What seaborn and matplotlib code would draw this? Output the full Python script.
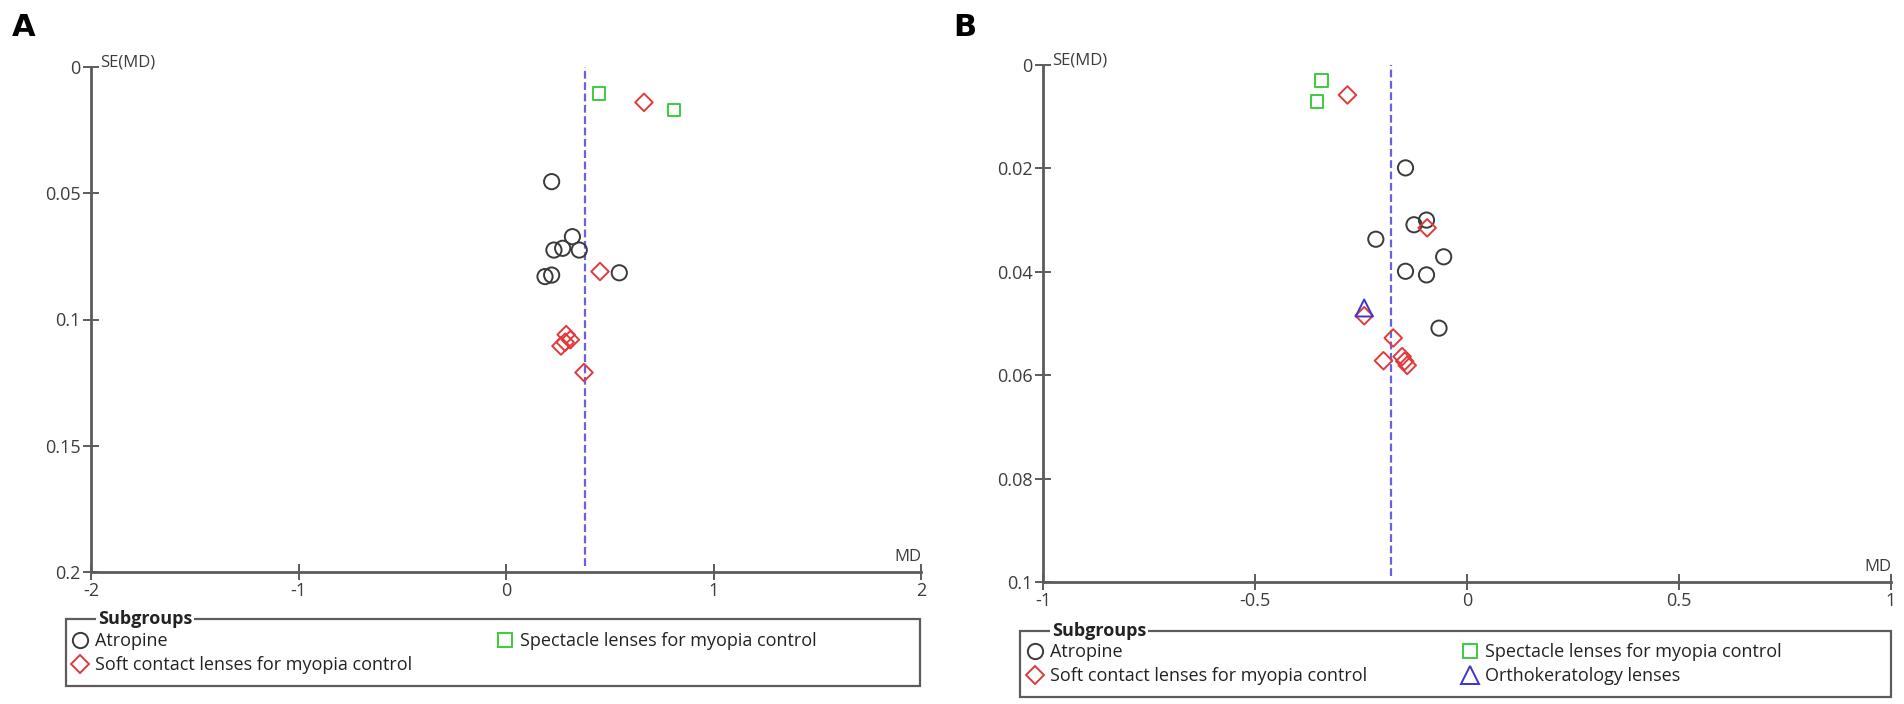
import matplotlib
matplotlib.use("Agg")
import matplotlib.pyplot as plt
import seaborn as sns
from matplotlib.lines import Line2D
from matplotlib.patches import Rectangle

# ---- data: MD (x) and SE(MD) (y) per study ----
# Panel A
a_atropine_md = [0.22, 0.32, 0.231, 0.273, 0.353, 0.546, 0.188, 0.22]
a_atropine_se = [0.0454, 0.0672, 0.0725, 0.0718, 0.0725, 0.0815, 0.083, 0.0824]
a_soft_md = [0.665, 0.453, 0.29, 0.31, 0.285, 0.265, 0.376]
a_soft_se = [0.014, 0.081, 0.106, 0.108, 0.109, 0.1105, 0.121]
a_spectacle_md = [0.448, 0.81]
a_spectacle_se = [0.0104, 0.017]
a_pooled_md = 0.38

# Panel B
b_atropine_md = [-0.145, -0.125, -0.0955, -0.215, -0.055, -0.145, -0.0955, -0.066]
b_atropine_se = [0.0199, 0.0309, 0.0300, 0.0337, 0.0371, 0.0399, 0.0406, 0.0509]
b_soft_md = [-0.282, -0.094, -0.2425, -0.174, -0.197, -0.153, -0.147, -0.141]
b_soft_se = [0.0058, 0.0315, 0.0485, 0.0528, 0.0572, 0.0564, 0.0573, 0.0581]
b_spectacle_md = [-0.343, -0.354]
b_spectacle_se = [0.0030, 0.0070]
b_ortho_md = [-0.2425]
b_ortho_se = [0.0470]
b_pooled_md = -0.18

a_xticks = [-2, -1, 0, 1, 2]
a_xticklabels = ["-2", "-1", "0", "1", "2"]
a_yticks = [0, 0.05, 0.1, 0.15, 0.2]
a_yticklabels = ["0", "0.05", "0.1", "0.15", "0.2"]
b_xticks = [-1, -0.5, 0, 0.5, 1]
b_xticklabels = ["-1", "-0.5", "0", "0.5", "1"]
b_yticks = [0, 0.02, 0.04, 0.06, 0.08, 0.1]
b_yticklabels = ["0", "0.02", "0.04", "0.06", "0.08", "0.1"]

labels = {
    "atropine": "Atropine",
    "soft": "Soft contact lenses for myopia control",
    "spectacle": "Spectacle lenses for myopia control",
    "ortho": "Orthokeratology lenses",
}
styles = {
    "atropine": dict(marker="o", color="#3a3a3a", s=120, ms=11),
    "soft": dict(marker="D", color="#e23a3a", s=80, ms=9),
    "spectacle": dict(marker="s", color="#3ccc3c", s=85, ms=9.5),
    "ortho": dict(marker="^", color="#3a36d0", s=150, ms=12.5),
}

W, H = 1904, 704
sns.set_style("white")
plt.rcParams["font.family"] = ["Liberation Sans Narrow", "Open Sans", "DejaVu Sans"]
AXIS_GRAY = "#5c5c5c"
TEXT_GRAY = "#3c3c3c"

fig = plt.figure(figsize=(W / 100, H / 100), dpi=100)


def px_axes(left, top, right, bottom):
    return fig.add_axes([left / W, 1 - bottom / H, (right - left) / W, (bottom - top) / H])


def draw_funnel(ax, groups, pooled, xlim, ymax, xticks, xticklabels, yticks, yticklabels):
    ax.axvline(pooled, ymin=0.012, ymax=1.0, color="#6a60e6", lw=1.6,
               dashes=(3.5, 1.6), zorder=2)
    for key, md, se in groups:
        st = styles[key]
        sns.scatterplot(x=md, y=se, marker=st["marker"], s=st["s"],
                        facecolor="none", edgecolor=st["color"], color=st["color"],
                        linewidth=1.4, ax=ax, legend=False, zorder=3)
    ax.set_xlim(*xlim)
    ax.set_ylim(ymax, 0)
    ax.set_xticks(xticks)
    ax.set_xticklabels(xticklabels)
    ax.set_yticks(yticks)
    ax.set_yticklabels(yticklabels)
    ax.set_xlabel("")
    ax.set_ylabel("")
    ax.set_facecolor("none")
    for side in ["top", "right"]:
        ax.spines[side].set_visible(False)
    for side in ["left", "bottom"]:
        ax.spines[side].set_color(AXIS_GRAY)
        ax.spines[side].set_linewidth(2.0)
    ax.tick_params(bottom=True, left=True, direction="inout", length=11, width=1.4,
                   color=AXIS_GRAY, labelsize=13, labelcolor=TEXT_GRAY, pad=2)
    ax.annotate("SE(MD)", xy=(0, 1), xycoords="axes fraction", xytext=(6.5, 3),
                textcoords="offset points", ha="left", va="center",
                fontsize=12, color=TEXT_GRAY)
    ax.annotate("MD", xy=(1, 0), xycoords="axes fraction", xytext=(0, 11),
                textcoords="offset points", ha="right", va="center",
                fontsize=12, color=TEXT_GRAY)


def draw_legend(box, title_x, col_x, row_top, keys_by_col):
    left, top, right, bottom = box
    fig.add_artist(Rectangle((left / W, 1 - bottom / H), (right - left) / W,
                             (bottom - top) / H, transform=fig.transFigure,
                             fill=False, edgecolor=AXIS_GRAY, lw=1.6))
    fig.text(title_x / W, 1 - top / H, "Subgroups", fontsize=13, fontweight="bold",
             color="#222222", ha="left", va="center",
             bbox=dict(facecolor="white", edgecolor="none", pad=1.5))
    for x, keys in zip(col_x, keys_by_col):
        handles = [Line2D([], [], ls="", marker=styles[k]["marker"],
                          mfc="none", mec=styles[k]["color"], ms=styles[k]["ms"],
                          mew=1.4) for k in keys]
        fig.legend(handles, [labels[k] for k in keys], loc="upper left",
                   bbox_to_anchor=(x / W, 1 - row_top / H), frameon=False,
                   fontsize=13, handlelength=0.9, handletextpad=0.35,
                   borderpad=0, borderaxespad=0, labelspacing=0.35,
                   labelcolor="#222222")


# ---- panel A ----
ax_a = px_axes(91, 67, 921, 572)
draw_funnel(ax_a,
            [("atropine", a_atropine_md, a_atropine_se),
             ("soft", a_soft_md, a_soft_se),
             ("spectacle", a_spectacle_md, a_spectacle_se)],
            a_pooled_md, (-2, 2), 0.2, a_xticks, a_xticklabels, a_yticks, a_yticklabels)
draw_legend((66, 619, 920, 686), 98, [72, 497], 632,
            [["atropine", "soft"], ["spectacle"]])

# ---- panel B ----
ax_b = px_axes(1043, 65, 1891, 582)
draw_funnel(ax_b,
            [("atropine", b_atropine_md, b_atropine_se),
             ("soft", b_soft_md, b_soft_se),
             ("spectacle", b_spectacle_md, b_spectacle_se),
             ("ortho", b_ortho_md, b_ortho_se)],
            b_pooled_md, (-1, 1), 0.1, b_xticks, b_xticklabels, b_yticks, b_yticklabels)
draw_legend((1020, 631, 1891, 697), 1052, [1027, 1462], 643,
            [["atropine", "soft"], ["spectacle", "ortho"]])

fig.text(12 / W, 1 - 27 / H, "A", fontsize=22, fontweight="bold", family="DejaVu Sans",
         ha="left", va="center", color="black")
fig.text(953 / W, 1 - 27 / H, "B", fontsize=22, fontweight="bold", family="DejaVu Sans",
         ha="left", va="center", color="black")

fig.savefig("out.png", dpi=100)
plt.close(fig)
